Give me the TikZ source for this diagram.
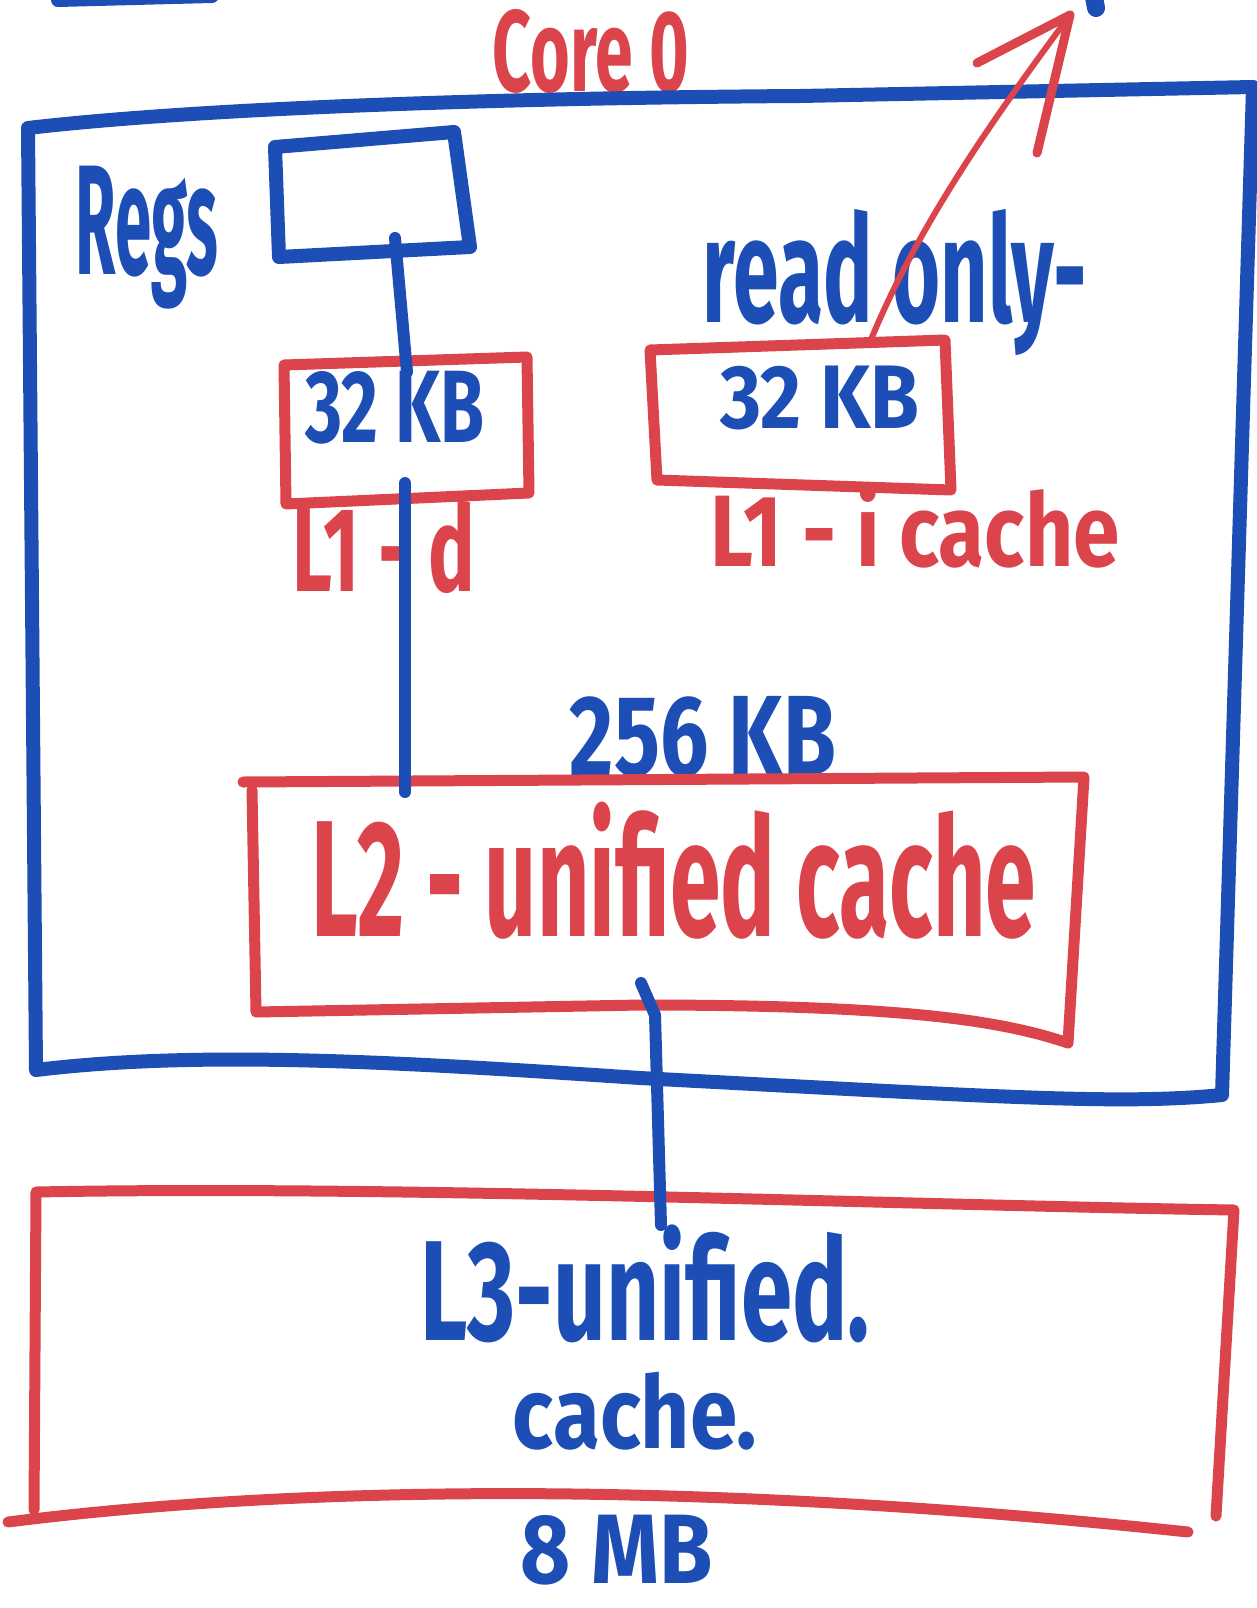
\documentclass[tikz,border=0pt]{standalone}
\usepackage{fontspec}
\setmainfont{Fira Sans}
\usepackage{graphicx}
\definecolor{inkblue}{RGB}{28,78,182}
\definecolor{inkred}{RGB}{220,68,76}
% text squeezed into the box the hand-written word takes
\newcommand{\hand}[3]{\resizebox*{#1pt}{#2pt}{\bfseries #3}}

\begin{document}
\begin{tikzpicture}[x=1pt,y=-1pt,
  bluepen/.style={draw=inkblue,line width=14pt,line cap=round,line join=round},
  redpen/.style={draw=inkred,line width=11pt,line cap=round,line join=round},
  bluetext/.style={text=inkblue,inner sep=0pt},
  redtext/.style={text=inkred,inner sep=0pt}]
  \useasboundingbox (0,0) rectangle (1257,1608);

  % corners of the boxes
  \coordinate (core-tl) at (28,128);
  \coordinate (core-tr) at (1253,87);
  \coordinate (core-br) at (1222,1095);
  \coordinate (core-bl) at (36,1070);
  \coordinate (regs-tl) at (275,147);
  \coordinate (regs-tr) at (454,132);
  \coordinate (regs-br) at (470,247);
  \coordinate (regs-bl) at (279,257);
  \coordinate (l1d-tl) at (284,365);
  \coordinate (l1d-tr) at (527,357);
  \coordinate (l1d-br) at (529,493);
  \coordinate (l1d-bl) at (286,504);
  \coordinate (l1i-tl) at (650,350);
  \coordinate (l1i-tr) at (945,340);
  \coordinate (l1i-br) at (951,490);
  \coordinate (l1i-bl) at (657,480);
  \coordinate (l2-tl) at (243,782);
  \coordinate (l2-tr) at (1084,777);
  \coordinate (l2-br) at (1068,1043);
  \coordinate (l2-bl) at (256,1012);
  \coordinate (l3-tl) at (36,1192);
  \coordinate (l3-tr) at (1234,1210);
  \coordinate (l3-br) at (1216,1516);
  \coordinate (l3-bl) at (34,1510);

  % bits of other drawings cut off at the top
  \draw[bluepen,line width=14pt] (58,0) -- (212,-4);
  \draw[bluepen,line width=18pt] (1093,-8) -- (1096,8);

  % core 0
  \node[redtext] (corelbl) at (591,51) {\hand{196}{84}{Core 0}};
  \draw[bluepen] (core-tl) .. controls (200,108) and (500,98) .. (800,96) -- (core-tr)
    -- (core-br) .. controls (1120,1105) and (1000,1097) .. (640,1078)
    .. controls (400,1062) and (200,1050) .. (core-bl) -- cycle;

  % registers
  \node[bluetext] (regslbl) at (147,238) {\hand{143}{143}{Regs}};
  \draw[bluepen] (regs-tl) -- (regs-tr) -- (regs-br) -- (regs-bl) -- cycle;

  % L1 data cache
  \draw[redpen] (l1d-tl) -- (l1d-tr) -- (l1d-br) -- (l1d-bl) -- cycle;
  \node[bluetext] (l1dsize) at (395,408) {\hand{179}{73}{32 KB}};
  \node[redtext] (l1dlbl) at (384,547) {\hand{182}{93}{L1 - d}};

  % L1 instruction cache
  \draw[redpen] (l1i-tl) -- (l1i-tr) -- (l1i-br) -- (l1i-bl) -- cycle;
  \node[bluetext] (l1isize) at (820,398) {\hand{199}{64}{32 KB}};
  \node[bluetext] (rolbl) at (895,282) {\hand{384}{146}{read only-}};
  \node[redtext] (l1ilbl) at (915,526) {\hand{409}{84}{L1 - i cache}};

  % L2
  \node[bluetext] (l2size) at (703,737) {\hand{266}{81}{256 KB}};
  \draw[redpen] (l2-tl) -- (l2-tr) -- (l2-br) .. controls (1000,1020) and (900,1005) .. (641,1005)
    -- (l2-bl) -- (252,790);
  \node[redtext] (l2lbl) at (674,871) {\hand{724}{137}{L2 - unified cache}};

  % L3
  \draw[redpen] (l3-br) -- (l3-tr) .. controls (900,1205) and (400,1185) .. (l3-tl) -- (l3-bl);
  \draw[redpen] (8,1522) .. controls (300,1485) and (700,1480) .. (1188,1532);
  \node[bluetext] (l3lbl) at (645,1284) {\hand{449}{118}{L3-unified.}};
  \node[bluetext] (l3lbltwo) at (635,1411) {\hand{244}{78}{cache.}};
  \node[bluetext] (mblbl) at (617,1550) {\hand{192}{70}{8 MB}};

  % connections
  \coordinate (regs-s) at (395,238);
  \coordinate (l1d-n) at (407,372);
  \coordinate (l1d-s) at (405,483);
  \coordinate (l2-n) at (405,792);
  \coordinate (l2-s) at (641,983);
  \coordinate (l3-n) at (661,1225);
  \coordinate (l1i-n) at (870,342);
  \coordinate (tip) at (1070,15);
  \draw[bluepen,line width=12pt] (regs-s) -- (l1d-n);
  \draw[bluepen,line width=12pt] (l1d-s) -- (l2-n);
  \draw[bluepen,line width=12pt] (l2-s) -- (655,1015) -- (l3-n);
  \draw[redpen,line width=6pt] (l1i-n) .. controls (920,220) and (1000,110) .. (tip);
  \draw[redpen,line width=9pt] (977,63) -- (tip) -- (1037,153);
\end{tikzpicture}
\end{document}
